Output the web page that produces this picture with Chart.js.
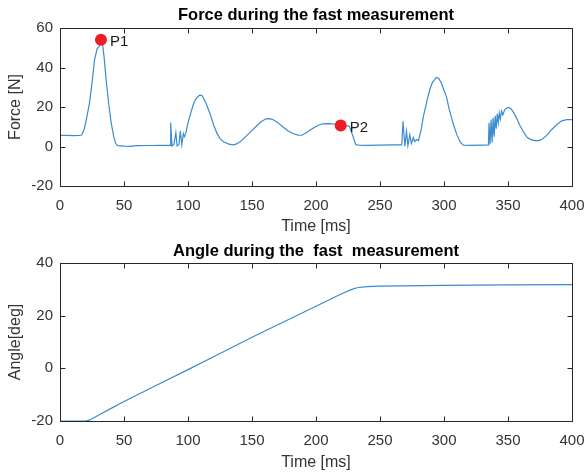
<!DOCTYPE html>
<html>
<head>
<meta charset="utf-8">
<script src="https://cdn.jsdelivr.net/npm/chart.js@4"></script>
<style>
  html, body { margin: 0; padding: 0; background: #fff; }
  #wrap { position: relative; width: 587px; height: 473px; }
  canvas { position: absolute; left: 0; }
  #force-chart { top: 0; }
  #angle-chart { top: 237px; }
</style>
</head>
<body>
<div id="wrap">
  <canvas id="force-chart" width="587" height="237"></canvas>
  <canvas id="angle-chart" width="587" height="236"></canvas>
</div>
<script>
// force signal [ms, N]
const forceTime = [
  0, 5, 10, 15, 17, 19, 21, 23, 25, 27, 29, 30.5, 31.5, 32, 33, 34.5, 36, 38, 40, 42, 43.5, 45,
  50, 55, 60, 70, 80, 86, 86.5, 87.5, 89, 90.5, 91.5, 93, 94, 95.2, 96.4, 97.2, 98.4, 100, 101.5,
  104, 106, 109, 111, 114, 117, 120, 122.5, 125, 128, 132, 135.5, 138, 141, 145, 149, 153, 157,
  161, 164, 167, 170, 174, 178, 182, 186, 189, 193, 197, 201, 205, 210, 214, 219.3, 222, 226,
  229, 231, 233, 240, 250, 260, 267, 268, 269.4, 270.7, 271.8, 273.3, 274.5, 276, 277.2, 278.5,
  280, 282, 284, 287, 289, 291, 294, 296, 298, 300, 302, 304, 307, 310, 312.5, 315, 320, 330,
  334.7, 335.2, 336, 336.8, 337.6, 338.4, 339.2, 340, 340.8, 341.6, 342.4, 343.2, 344, 345, 346,
  347.4, 349, 350.5, 352.5, 355, 357, 359, 362, 365, 368, 371, 374, 377, 380, 384, 388, 392, 396, 400
];
const forceValues = [
  5.6, 5.6, 5.5, 5.6, 5.8, 9, 15, 22, 32, 44, 49.5, 50.5, 52, 54, 53, 45, 34, 22, 12, 5, 1.5, 0.4,
  0.2, 0.1, 0.4, 0.5, 0.6, 0.6, 12, 0.2, 1, 7, 0.3, 1, 8, 0.8, 6.5, 5, 7, 12, 15.5,
  21, 24, 26, 25.8, 22, 17, 11, 6.9, 4, 2.3, 1.2, 0.8, 1.3, 2.5, 5, 7.5, 10, 12.5,
  14, 14.1, 13.4, 12.2, 10, 8, 6.6, 5.8, 5.7, 7.2, 9, 10.5, 11.5, 11.6, 11.4, 10.6, 10.5, 10.3,
  5, 1, 0.7, 0.6, 0.7, 0.8, 0.8, 12.8, 0.2, 7.7, 0.5, 6, 1.5, 4.5, 2.5, 3.5,
  3, 8, 15.5, 24, 29, 32.5, 35, 34.5, 32, 28.5, 25, 19, 12, 6, 2.5, 0.7, 0.6, 0.7,
  0.8, 12, 1, 13.6, 2, 14.5, 5, 15.5, 9, 16.5, 12, 17, 14, 18, 16,
  18.6, 19.5, 19.8, 19, 16.5, 14, 11, 7.5, 4.5, 3.5, 3, 3, 3.8, 5.5, 8.5, 11, 13, 13.6, 13.6
];

// marked points on the force curve
const markerNames = ["P1", "P2"];
const markerTime = [32, 219.3];
const markerForce = [54, 10.6];

// joint angle [ms, deg]
const angleTime = [0, 10, 20, 23, 30, 40, 50, 75, 100, 125, 150, 175, 200, 220, 228, 232, 240, 250, 300, 350, 400];
const angleValues = [-20, -20, -20, -19.7, -17.8, -15.2, -12.6, -6.5, -0.5, 5.6, 11.8, 17.7, 23.6, 28.3, 30, 30.6, 31, 31.2, 31.5, 31.7, 31.8];

const timeTicks = [0, 50, 100, 150, 200, 250, 300, 350, 400];
const forceTicks = [-20, 0, 20, 40, 60];
const angleTicks = [-20, 0, 20, 40];

const FONT = "'Liberation Sans', Arial, Helvetica, sans-serif";
const AXIS = "#262626";
const BLUE = "#3a8bd0";

const pairs = (xs, ys) => xs.map((x, i) => ({ x, y: ys[i] }));

// box around the axes with inward ticks on every side
const boxPlugin = {
  id: "box",
  afterDatasetsDraw(chart) {
    const { ctx, chartArea: a, scales: { x, y } } = chart;
    const L = Math.round(a.left) + 0.5, R = Math.round(a.right) + 0.5;
    const T = Math.round(a.top) + 0.5, B = Math.round(a.bottom) + 0.5;
    ctx.save();
    ctx.strokeStyle = AXIS;
    ctx.lineWidth = 1;
    ctx.beginPath();
    ctx.rect(L, T, R - L, B - T);
    x.ticks.forEach(t => {
      const px = Math.round(x.getPixelForValue(t.value)) + 0.5;
      ctx.moveTo(px, B); ctx.lineTo(px, B - 5);
      ctx.moveTo(px, T); ctx.lineTo(px, T + 5);
    });
    y.ticks.forEach(t => {
      const py = Math.round(y.getPixelForValue(t.value)) + 0.5;
      ctx.moveTo(L, py); ctx.lineTo(L + 5, py);
      ctx.moveTo(R, py); ctx.lineTo(R - 5, py);
    });
    ctx.stroke();
    ctx.restore();
  }
};

// names next to the red markers
const markerLabels = {
  id: "markerLabels",
  afterDraw(chart) {
    const idx = chart.data.datasets.findIndex(d => d.label === "markers");
    if (idx < 0) return;
    const { ctx } = chart;
    ctx.save();
    ctx.fillStyle = "#1a1a1a";
    ctx.font = "15px " + FONT;
    ctx.textBaseline = "middle";
    chart.getDatasetMeta(idx).data.forEach((pt, i) => {
      ctx.fillText(markerNames[i], pt.x + 9, pt.y + 2);
    });
    ctx.restore();
  }
};

function axes(yMin, yMax, yTicks, yTitle, plotBottom) {
  return {
    x: {
      type: "linear", min: 0, max: 400,
      afterBuildTicks: s => { s.ticks = timeTicks.map(v => ({ value: v })); },
      afterFit: s => { s.height = plotBottom; s.paddingLeft = 0; s.paddingRight = 0; },
      grid: { display: false, drawTicks: false },
      border: { display: false },
      ticks: { color: "#333", font: { family: FONT, size: 15 }, padding: 11, maxRotation: 0 },
      title: { display: true, text: "Time [ms]", color: "#333", font: { family: FONT, size: 16 }, padding: { top: 0, bottom: 1 } }
    },
    y: {
      type: "linear", min: yMin, max: yMax,
      afterBuildTicks: s => { s.ticks = yTicks.map(v => ({ value: v })); },
      afterFit: s => { s.width = 60; s.paddingTop = 0; s.paddingBottom = 0; },
      grid: { display: false, drawTicks: false },
      border: { display: false },
      ticks: { color: "#333", font: { family: FONT, size: 15 }, padding: 7 },
      title: { display: true, text: yTitle, color: "#333", font: { family: FONT, size: 16 }, padding: { top: 6, bottom: 0 } }
    }
  };
}

// title sits over the plot area only, so it is centred on the axes
function titleOpts(text, top, bottom) {
  return {
    display: true, text, color: "#000", fullSize: false,
    font: { family: FONT, size: 16.5, weight: "bold", lineHeight: 1.1 },
    padding: { top, bottom }
  };
}

new Chart(document.getElementById("force-chart"), {
  type: "line",
  data: {
    datasets: [
      {
        label: "force", data: pairs(forceTime, forceValues), order: 1,
        borderColor: BLUE, borderWidth: 1.2, pointRadius: 0, tension: 0
      },
      {
        label: "markers", data: pairs(markerTime, markerForce), order: 0, showLine: false,
        pointRadius: 6, pointBackgroundColor: "#ee1c25", pointBorderColor: "#ee1c25", pointBorderWidth: 0
      }
    ]
  },
  options: {
    responsive: false, animation: false,
    layout: { padding: { left: 0, right: 15, top: 0, bottom: 0 } },
    plugins: { legend: { display: false }, tooltip: { enabled: false }, title: titleOpts("Force during the fast measurement", 6, 3.85) },
    scales: axes(-20, 60, forceTicks, "Force [N]", 51)
  },
  plugins: [boxPlugin, markerLabels]
});

new Chart(document.getElementById("angle-chart"), {
  type: "line",
  data: {
    datasets: [{
      label: "angle", data: pairs(angleTime, angleValues),
      borderColor: BLUE, borderWidth: 1.2, pointRadius: 0, tension: 0
    }]
  },
  options: {
    responsive: false, animation: false,
    layout: { padding: { left: 0, right: 15, top: 0, bottom: 0 } },
    plugins: { legend: { display: false }, tooltip: { enabled: false }, title: titleOpts("Angle during the  fast  measurement", 5, 2.85) },
    scales: axes(-20, 40, angleTicks, "Angle[deg]", 52)
  },
  plugins: [boxPlugin]
});
</script>
</body>
</html>
